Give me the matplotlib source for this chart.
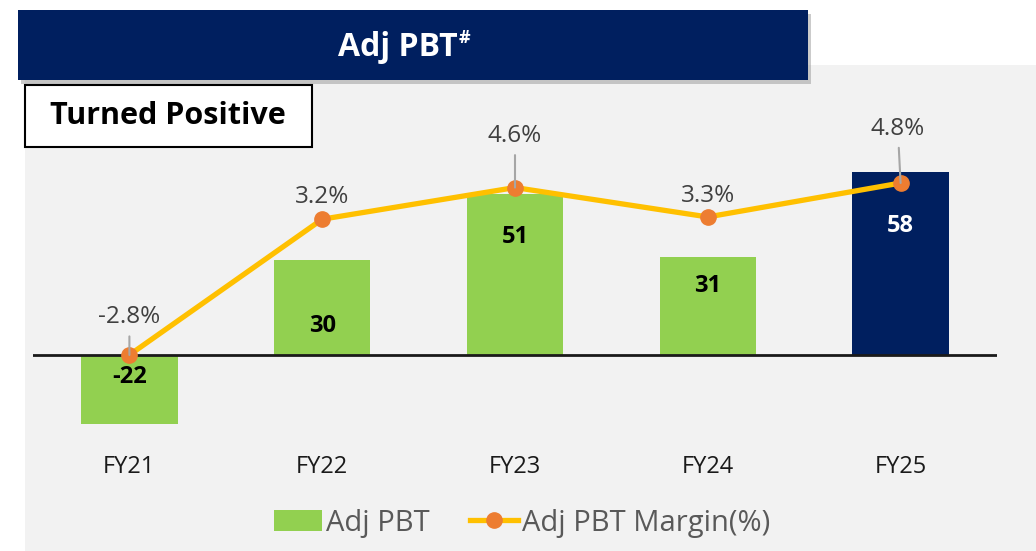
import matplotlib
matplotlib.use("Agg")
import matplotlib.pyplot as plt
from matplotlib.patches import Rectangle, Patch
from matplotlib.lines import Line2D

# ---- data ----
categories = ["FY21", "FY22", "FY23", "FY24", "FY25"]
adj_pbt = [-22, 30, 51, 31, 58]
margin = [-2.8, 3.2, 4.6, 3.3, 4.8]
margin_labels = ["-2.8%", "3.2%", "4.6%", "3.3%", "4.8%"]
title = "Adj PBT"
title_sup = "#"
subtitle = "Turned Positive"
legend_labels = ["Adj PBT", "Adj PBT Margin(%)"]

# ---- style ----
GREEN = "#92D050"
NAVY = "#001F5F"
LINE = "#FFC000"
MARK = "#ED7D31"
BG = "#F2F2F2"
FONT = "Open Sans"
plt.rcParams["font.family"] = [FONT, "DejaVu Sans"]

W, H = 1036, 551
fig = plt.figure(figsize=(W / 100, H / 100), dpi=100)
fig.patch.set_facecolor("white")

def fx(px):
    return px / W

def fy(py):
    return 1 - py / H

# gray panel background
fig.patches.append(Rectangle((fx(25), 0), 1 - fx(25), fy(65), transform=fig.transFigure,
                             facecolor=BG, edgecolor="none", zorder=0))
# banner shadow + banner
fig.patches.append(Rectangle((fx(21), fy(84)), fx(790), fy(14) - fy(84), transform=fig.transFigure,
                             facecolor="#7f7f7f", edgecolor="none", alpha=0.4, zorder=1))
fig.patches.append(Rectangle((fx(18), fy(80)), fx(790), fy(10) - fy(80), transform=fig.transFigure,
                             facecolor=NAVY, edgecolor="none", zorder=2))
fig.text(fx(398), fy(47), title, color="white", fontsize=23, fontweight="bold",
         ha="center", va="center", zorder=3)
fig.text(fx(459), fy(38), title_sup, color="white", fontsize=13, fontweight="bold",
         ha="left", va="center", zorder=3)
# subtitle box
fig.patches.append(Rectangle((fx(25), fy(147)), fx(287), fy(85) - fy(147), transform=fig.transFigure,
                             facecolor="white", edgecolor="black", linewidth=1.5, zorder=2))
fig.text(fx(168), fy(116), subtitle, color="black", fontsize=22, fontweight="bold",
         ha="center", va="center", zorder=3)

# ---- axes ----
ax_left, ax_right, ax_top, ax_bot = 33, 997, 150, 440
ax = fig.add_axes([fx(ax_left), fy(ax_bot), fx(ax_right - ax_left), fy(ax_top) - fy(ax_bot)])
ax.set_zorder(5)
ax.patch.set_alpha(0)
x = list(range(len(categories)))
colors = [GREEN] * (len(categories) - 1) + [NAVY]
ax.bar(x, adj_pbt, width=0.5, color=colors, zorder=2)
ax.axhline(0, color="#1a1a1a", lw=2, zorder=3)
ax.set_xlim(-0.5, len(categories) - 0.5)
ax.set_ylim(-27, 65)
ax.set_xticks(x)
ax.set_xticklabels(categories, fontsize=17, color="#1a1a1a")
ax.tick_params(axis="x", length=0, pad=11)
ax.set_yticks([])
for s in ax.spines.values():
    s.set_visible(False)

# bar value labels (offset in points below bar end)
bar_lab_off = [16, 47, 31, 21, 39]
for i, v in enumerate(adj_pbt):
    base = 0 if v < 0 else v
    ax.annotate(str(v), xy=(i, base), xytext=(0, -bar_lab_off[i]), textcoords="offset points",
                ha="center", va="center", fontsize=17, fontweight="bold",
                color="white" if i == len(adj_pbt) - 1 else "black", zorder=5)

# secondary axis for margin
ax2 = ax.twinx()
ax2.set_zorder(6)
ax2.patch.set_alpha(0)
ax2.set_ylim(-6.56, 6.26)
ax2.set_yticks([])
for s in ax2.spines.values():
    s.set_visible(False)
ax2.plot(x, margin, color=LINE, lw=3.8, marker="o", markersize=11,
         markerfacecolor=MARK, markeredgecolor=MARK, zorder=4)

lab_off = [(0, 27), (0, 16), (0, 37), (0, 15), (-2, 39)]
leader = [True, False, True, False, True]
for i, m in enumerate(margin):
    kw = {}
    if leader[i]:
        kw["arrowprops"] = dict(arrowstyle="-", color="#A6A6A6", lw=1.5, shrinkA=3, shrinkB=0)
    ax2.annotate(margin_labels[i], xy=(i, m), xytext=lab_off[i], textcoords="offset points",
                 ha="center", va="center", fontsize=17.5, color="#404040", zorder=6, **kw)

# ---- legend ----
handles = [Patch(facecolor=GREEN, edgecolor="none"),
           Line2D([0], [0], color=LINE, lw=3.8, marker="o", markersize=11,
                  markerfacecolor=MARK, markeredgecolor=MARK)]
fig.legend(handles, legend_labels, loc="center", bbox_to_anchor=(fx(522), fy(523)), ncol=2,
           frameon=False, fontsize=21, labelcolor="#595959", handlelength=1.65,
           handleheight=0.75, handletextpad=0.12, columnspacing=1.4)

fig.savefig("out.png", dpi=100, facecolor=fig.get_facecolor())
